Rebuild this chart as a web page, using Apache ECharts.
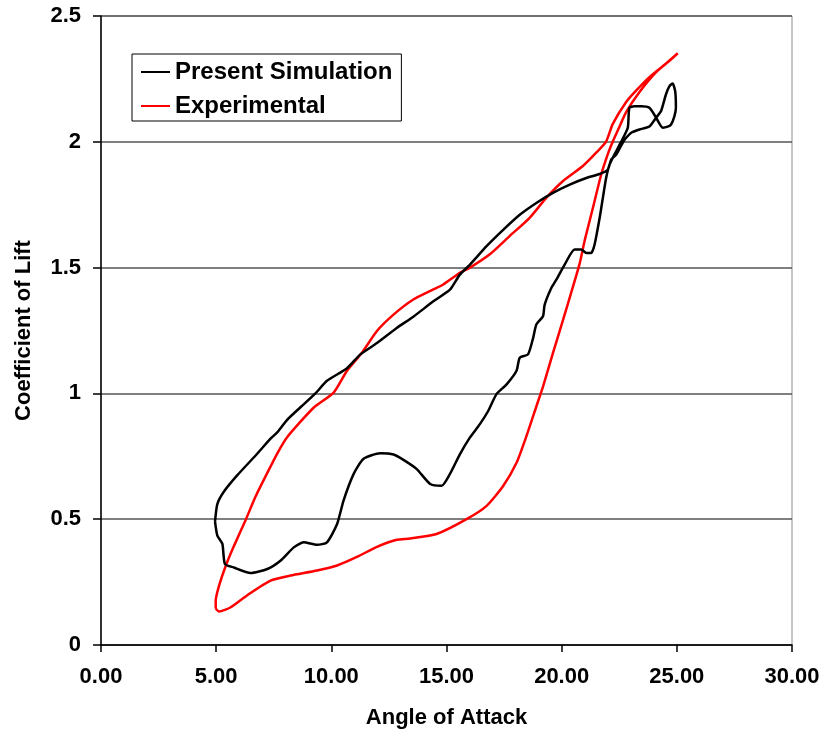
<!DOCTYPE html>
<html>
<head>
<meta charset="utf-8">
<script src="https://cdn.jsdelivr.net/npm/echarts@6/dist/echarts.min.js"></script>
<style>
  html, body { margin: 0; padding: 0; background: #fff; }
  #chart { width: 830px; height: 738px; }
</style>
</head>
<body>
<div id="chart"></div>
<script>
var xTicks = [0, 5, 10, 15, 20, 25, 30];
var yTicks = [0, 0.5, 1, 1.5, 2, 2.5];

// Present Simulation loop (angle, lift) traced around the hysteresis loop
var simAngle = [4.95, 5.05, 5.34, 5.92, 6.78, 7.36, 7.65, 8.08, 8.66, 9.31, 9.81, 10.68, 11.26, 11.98, 12.84,
  13.56, 14.43, 15.15, 15.58, 16.02, 16.74, 17.46, 18.18, 18.9, 19.62, 20.35, 21.07, 21.65, 22.0, 22.15,
  22.37, 22.65, 22.8, 23.02, 23.38, 23.81, 24.1, 24.31, 24.53, 24.68, 24.82, 24.93, 24.96, 24.89, 24.75,
  24.6, 24.39, 24.1, 23.81, 23.45, 23.16, 22.94, 22.87, 22.58, 22.29, 22.08, 21.93, 21.79, 21.65, 21.43,
  21.28, 21.07, 20.85, 20.56, 20.13, 19.77, 19.55, 19.26, 19.19, 18.9, 18.76, 18.54, 18.18, 18.04, 17.61,
  17.17, 16.81, 16.45, 16.02, 15.58, 15.15, 14.79, 14.29, 13.71, 13.2, 12.7, 12.12, 11.4, 10.97, 10.53,
  10.25, 9.81, 9.38, 8.8, 8.37, 7.79, 7.22, 6.49, 5.77, 5.38, 5.27, 5.05, 4.95];
var simCl = [0.49, 0.56, 0.61, 0.675, 0.76, 0.82, 0.845, 0.895, 0.945, 1.0, 1.05, 1.1, 1.155, 1.2, 1.26,
  1.305, 1.366, 1.412, 1.472, 1.512, 1.585, 1.65, 1.71, 1.757, 1.797, 1.83, 1.856, 1.872, 1.889, 1.929,
  1.949, 1.996, 2.016, 2.036, 2.049, 2.061, 2.096, 2.121, 2.189, 2.221, 2.232, 2.2, 2.135, 2.1, 2.069,
  2.06, 2.056, 2.096, 2.135, 2.141, 2.141, 2.135, 2.056, 2.0, 1.949, 1.91, 1.856, 1.778, 1.698, 1.592,
  1.558, 1.558, 1.572, 1.572, 1.512, 1.452, 1.419, 1.352, 1.307, 1.274, 1.22, 1.155, 1.142, 1.09, 1.036,
  0.997, 0.93, 0.878, 0.825, 0.758, 0.68, 0.633, 0.64, 0.699, 0.732, 0.757, 0.762, 0.74, 0.68, 0.574,
  0.481, 0.408, 0.398, 0.408, 0.388, 0.335, 0.302, 0.286, 0.308, 0.322, 0.402, 0.435, 0.49];

// Experimental loop
var expAngle = [4.98, 5.12, 5.63, 6.35, 7.36, 8.23, 9.38, 10.25, 11.11, 11.98, 12.84, 13.42, 14.57, 15.87,
  16.74, 17.46, 18.04, 18.47, 18.9, 19.19, 19.62, 20.06, 20.49, 20.78, 21.0, 21.36, 21.72, 22.0, 22.22,
  22.44, 22.8, 23.38, 24.1, 24.68, 25.04, 24.53, 23.81, 23.23, 22.8, 22.22, 21.93, 21.5, 20.92, 20.06,
  19.34, 18.61, 17.75, 16.88, 16.02, 15.58, 14.86, 14.43, 13.56, 12.7, 11.98, 11.33, 10.68, 10.1, 9.23,
  8.08, 7.65, 7.22, 6.71, 6.28, 5.77, 5.41, 5.12, 4.98, 4.98];
var expCl = [0.145, 0.133, 0.15, 0.198, 0.256, 0.276, 0.296, 0.316, 0.35, 0.39, 0.418, 0.423, 0.441, 0.5,
  0.553, 0.632, 0.724, 0.83, 0.948, 1.027, 1.16, 1.292, 1.424, 1.516, 1.608, 1.739, 1.871, 1.95, 2.001,
  2.046, 2.118, 2.198, 2.277, 2.322, 2.352, 2.311, 2.257, 2.203, 2.158, 2.071, 2.001, 1.957, 1.904, 1.844,
  1.778, 1.698, 1.626, 1.553, 1.5, 1.479, 1.433, 1.413, 1.373, 1.313, 1.248, 1.162, 1.09, 1.003, 0.943,
  0.826, 0.761, 0.684, 0.59, 0.497, 0.393, 0.313, 0.234, 0.175, 0.145];

function pairs(xs, ys) {
  return xs.map(function (x, i) { return [x, ys[i]]; });
}

var font = 'Liberation Sans, Arial, sans-serif';

var dom = document.getElementById('chart');
var myChart = echarts.init(dom, null, { renderer: 'canvas' });

var option = {
  backgroundColor: '#ffffff',
  animation: false,
  grid: {
    left: 101, right: 38, top: 16, bottom: 93,
    show: true, borderColor: '#8c8c8c', borderWidth: 1
  },
  legend: {
    orient: 'vertical',
    left: 132, top: 54,
    padding: [6, 9, 3, 8],
    itemGap: 10,
    itemWidth: 29, itemHeight: 2,
    borderColor: '#000', borderWidth: 1,
    textStyle: { fontFamily: font, fontSize: 24, fontWeight: 'bold', color: '#000' },
    data: ['Present Simulation', 'Experimental']
  },
  xAxis: {
    type: 'value',
    min: xTicks[0], max: xTicks[xTicks.length - 1], interval: 5,
    name: 'Angle of Attack',
    nameLocation: 'middle',
    nameGap: 62,
    nameTextStyle: { fontFamily: font, fontSize: 22, fontWeight: 'bold', color: '#000' },
    axisLine: { lineStyle: { color: '#000', width: 1.5 } },
    axisTick: { show: true, length: 7, lineStyle: { color: '#000', width: 1.5 } },
    axisLabel: {
      margin: 21, fontFamily: font, fontSize: 22, fontWeight: 'bold', color: '#000',
      formatter: function (v) { return v.toFixed(2); }
    },
    splitLine: { show: false }
  },
  yAxis: {
    type: 'value',
    min: yTicks[0], max: yTicks[yTicks.length - 1], interval: 0.5,
    name: 'Coefficient of Lift',
    nameLocation: 'middle',
    nameGap: 66,
    nameTextStyle: { fontFamily: font, fontSize: 22, fontWeight: 'bold', color: '#000' },
    axisLine: { show: true, lineStyle: { color: '#000', width: 1.5 } },
    axisTick: { show: true, length: 8, lineStyle: { color: '#000', width: 1.5 } },
    axisLabel: { margin: 20, fontFamily: font, fontSize: 22, fontWeight: 'bold', color: '#000' },
    splitLine: { show: true, lineStyle: { color: '#555', width: 1.5 } }
  },
  series: [
    {
      name: 'Present Simulation',
      type: 'line',
      data: pairs(simAngle, simCl),
      symbol: 'none',
      smooth: 0.2,
      lineStyle: { color: '#000', width: 2.5 },
      itemStyle: { color: '#000' },
      z: 3
    },
    {
      name: 'Experimental',
      type: 'line',
      data: pairs(expAngle, expCl),
      symbol: 'none',
      smooth: 0.2,
      lineStyle: { color: '#ff0000', width: 2.5 },
      itemStyle: { color: '#ff0000' },
      z: 2
    }
  ]
};

myChart.setOption(option);
window.addEventListener('resize', myChart.resize);
</script>
</body>
</html>
